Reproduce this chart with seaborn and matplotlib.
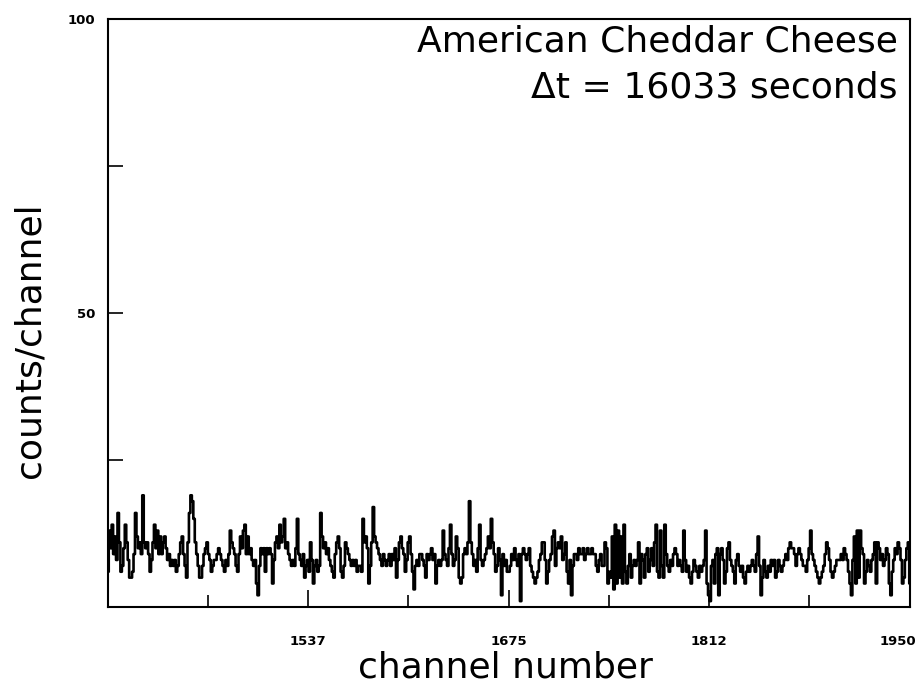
import numpy as np
import pandas as pd
import matplotlib
matplotlib.use("Agg")
import matplotlib.pyplot as plt
import matplotlib.transforms as mtransforms
import seaborn as sns

# spectrum, one count per channel (1400 .. 1950)
first_channel = 1400
counts = [
    6, 13, 10, 14, 9, 12, 8, 16, 11, 6, 7, 10, 14, 11, 8, 5, 5, 6, 9, 16,
    12, 10, 11, 9, 19, 11, 10, 11, 9, 6, 8, 11, 14, 10, 13, 9, 12, 9, 11, 12,
    10, 8, 9, 7, 8, 7, 8, 6, 7, 9, 11, 12, 9, 7, 5, 11, 16, 19, 18, 15,
    11, 9, 7, 5, 5, 7, 9, 10, 11, 9, 8, 6, 7, 8, 8, 9, 10, 9, 8, 7,
    6, 8, 7, 9, 13, 11, 10, 9, 7, 6, 9, 12, 10, 13, 14, 9, 12, 9, 10, 8,
    7, 8, 4, 2, 7, 10, 9, 10, 6, 10, 9,
    10, 9, 4, 8, 11, 12, 10, 14, 11, 12,
    15, 10, 11, 9, 8, 7, 8, 7, 10, 15,
    9, 8, 7, 9, 5, 7, 8, 6, 11, 8,
    4, 7, 8, 6, 7, 16, 12, 10, 11, 9,
    10, 8, 7, 6, 5, 9, 11, 12, 10, 6,
    5, 7, 11, 10, 9, 8, 7, 8, 7, 8,
    6, 7, 7, 6, 15, 11, 12, 10, 4, 7,
    11, 17, 12, 11, 10, 9, 8, 7, 9, 8,
    7, 8, 9, 7, 9, 8, 10, 5, 8, 11,
    12, 10, 9, 6, 8, 11, 12, 9, 6, 3,
    7, 8, 7, 9, 9, 8, 7, 5, 9, 8,
    9, 10, 8, 9, 4, 7, 8, 7, 8, 13,
    9, 8, 7, 10, 14, 9, 7, 8, 12, 10,
    5, 4, 5, 9, 10, 9, 11, 18, 11, 9,
    7, 8, 6, 10, 14, 8, 7, 8, 9, 10,
    12, 10, 15, 11, 9, 6, 7, 10, 8, 2,
    9, 7, 8, 6, 6, 7, 9, 8, 10, 8,
    7, 9, 1, 9, 10, 9, 8, 9, 10, 7,
    6, 5, 4, 5, 6, 8, 9, 11, 11, 8,
    4, 6, 8, 9, 12, 13, 7, 10, 11, 10,
    12, 8, 9, 11, 6, 4, 8, 2, 7, 9,
    9, 8, 10, 9, 9, 10, 8, 9, 10, 9,
    9, 10, 9, 9, 7, 6, 8, 9, 7, 7,
    11, 10, 4, 6, 5, 12, 3, 14, 4, 13,
    5, 12, 4, 14, 6, 4, 7, 9, 5, 7,
    8, 7, 8, 11, 4, 9, 8, 5, 9, 10,
    6, 8, 10, 7, 11, 14, 6, 5, 13, 7,
    5, 14, 9, 7, 6, 8, 7, 9, 10, 9,
    7, 8, 7, 6, 13, 8, 6, 7, 5, 4,
    6, 8, 7, 6, 5, 7, 6, 7, 8, 13,
    4, 2, 1, 7, 8, 4, 9, 10, 2, 9,
    10, 8, 4, 6, 10, 11, 8, 7, 6, 4,
    8, 9, 7, 6, 7, 5, 4, 6, 7, 6,
    7, 8, 7, 6, 9, 12, 7, 2, 5, 8,
    6, 5, 7, 6, 8, 7, 8, 5, 6, 8,
    7, 6, 7, 8, 9, 8, 10, 11, 10, 10,
    9, 7, 9, 10, 9, 8, 7, 7, 6, 8,
    10, 13, 9, 8, 7, 6, 5, 4, 5, 6,
    7, 9, 11, 10, 8, 6, 5, 6, 7, 8,
    8, 8, 9, 8, 10, 9, 8, 6, 4, 2,
    8, 12, 4, 13, 5, 13, 10, 9, 4, 6,
    8, 7, 6, 8, 9, 11, 4, 11, 10, 8,
    9, 7, 8, 10, 9, 4, 2, 6, 8, 10,
    9, 11, 10, 8, 4, 5, 8, 10, 11, 4,
]

x_major = [1537, 1675, 1812, 1950]
x_minor = [1468.5, 1606, 1743.5, 1881]
y_ticks = [0, 25, 50, 75, 100]
y_labels = ["", "", "50", "", "100"]

df = pd.DataFrame({"channel": np.arange(first_channel, first_channel + len(counts)),
                   "counts": counts})

sns.set_style("ticks")
plt.rcParams["font.family"] = ["DejaVu Sans"]
plt.rcParams["text.color"] = "black"
plt.rcParams["xtick.color"] = "black"
plt.rcParams["ytick.color"] = "black"

fig = plt.figure(figsize=(9.2, 6.92), dpi=100)
ax = fig.add_axes([0.1174, 0.1228, 0.8717, 0.8497])

sns.lineplot(data=df, x="channel", y="counts", ax=ax, color="black",
             linewidth=1.9, drawstyle="steps-mid")

ax.set_xlim(1400, 1950)
ax.set_ylim(0, 100)
ax.set_xticks(x_major)
ax.set_xticks(x_minor, minor=True)
ax.set_xticklabels([str(v) for v in x_major], fontweight="bold", fontsize=9.5)
ax.set_yticks(y_ticks)
ax.set_yticklabels(y_labels, fontweight="bold", fontsize=9.5)
ax.tick_params(axis="x", which="major", direction="in", length=12, width=1.2, pad=20)
ax.tick_params(axis="x", which="minor", direction="in", length=9, width=1.2)
ax.tick_params(axis="y", which="major", direction="in", length=11, width=1.2, pad=9)
ax.set_xlabel("")
ax.set_ylabel("")

# the last label sits at the right edge; nudge it inside the figure
last = ax.get_xticklabels()[-1]
last.set_transform(last.get_transform() +
                   mtransforms.ScaledTranslation(-0.12, 0, fig.dpi_scale_trans))

for sp in ax.spines.values():
    sp.set_visible(True)
    sp.set_linewidth(1.5)
    sp.set_color("black")

fig.text(505 / 920, 1 - 668 / 692, "channel number", ha="center", va="center",
         fontsize=26)
fig.text(30 / 920, 1 - 340 / 692, "counts/channel", ha="center", va="center",
         fontsize=26, rotation=90)

ax.text(0.985, 0.961, "American Cheddar Cheese", transform=ax.transAxes,
        ha="right", va="center", fontsize=26)
ax.text(0.985, 0.883, "\u0394t = 16033 seconds", transform=ax.transAxes,
        ha="right", va="center", fontsize=26)

fig.savefig("out.png", dpi=100, facecolor="white")
